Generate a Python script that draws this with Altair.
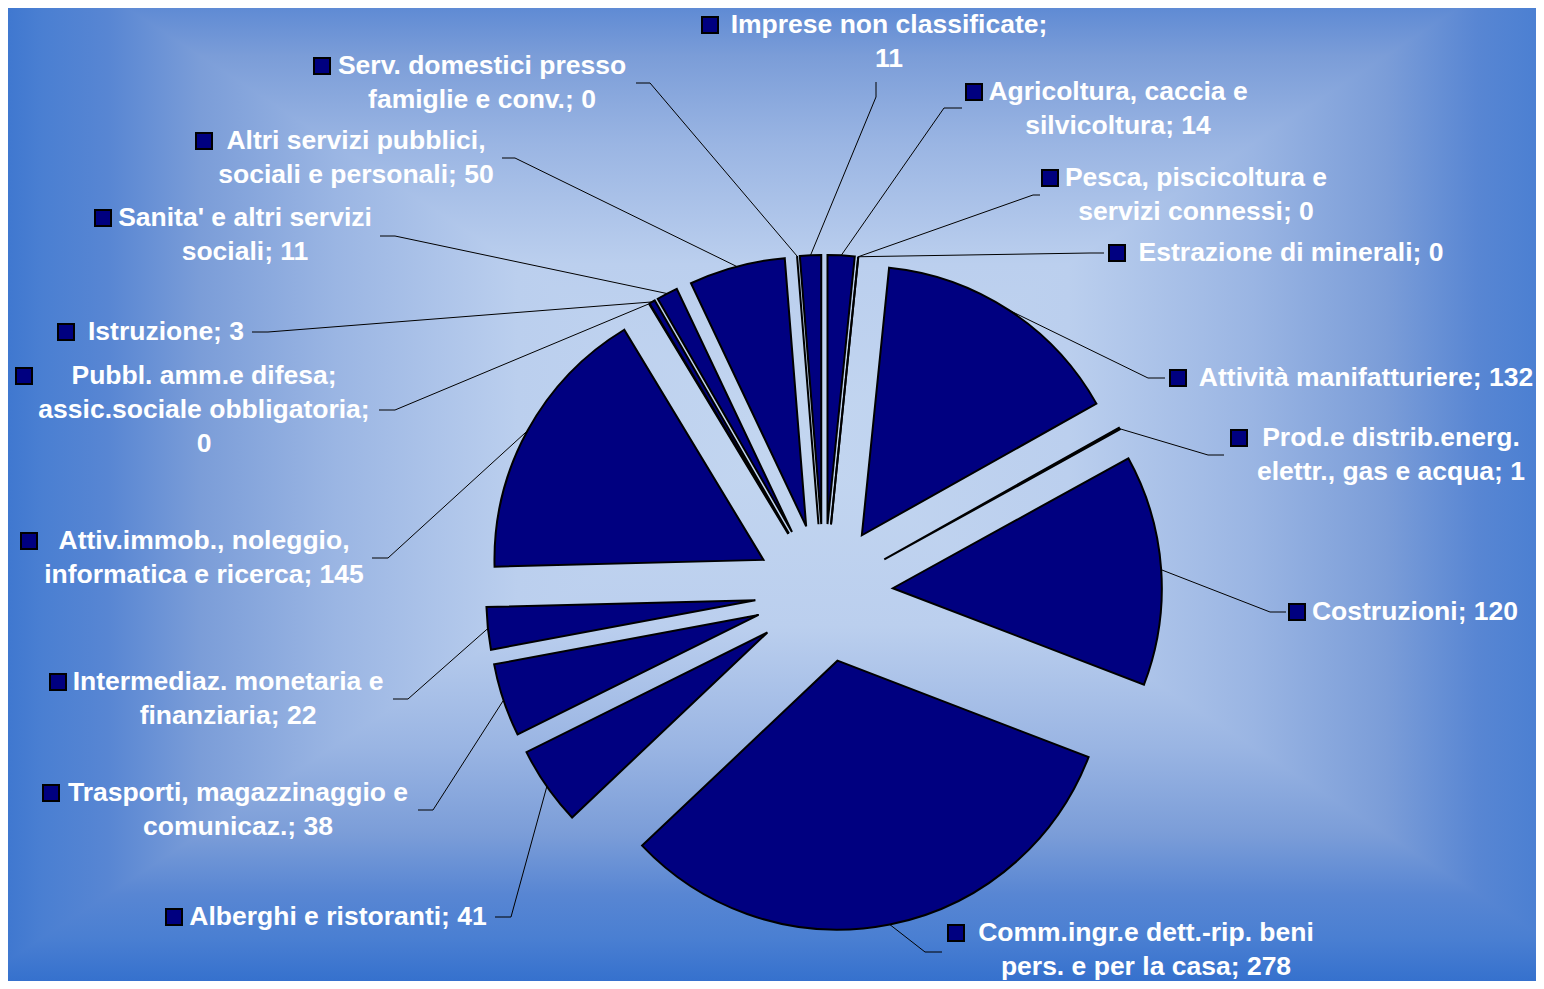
import altair as alt
import pandas as pd

# ---------------- data ----------------
CATEGORIES = [
    "Agricoltura, caccia e silvicoltura",
    "Pesca, piscicoltura e servizi connessi",
    "Estrazione di minerali",
    "Attività manifatturiere",
    "Prod.e distrib.energ. elettr., gas e acqua",
    "Costruzioni",
    "Comm.ingr.e dett.-rip. beni pers. e per la casa",
    "Alberghi e ristoranti",
    "Trasporti, magazzinaggio e comunicaz.",
    "Intermediaz. monetaria e finanziaria",
    "Attiv.immob., noleggio, informatica e ricerca",
    "Pubbl. amm.e difesa; assic.sociale obbligatoria",
    "Istruzione",
    "Sanita' e altri servizi sociali",
    "Altri servizi pubblici, sociali e personali",
    "Serv. domestici presso famiglie e conv.",
    "Imprese non classificate",
]
VALUES = [14, 0, 0, 132, 1, 120, 278, 41, 38, 22, 145, 0, 3, 11, 50, 0, 11]
LABEL_LINES = [
    ["Agricoltura, caccia e", "silvicoltura; {v}"],
    ["Pesca, piscicoltura e", "servizi connessi; {v}"],
    ["Estrazione di minerali; {v}"],
    ["Attività manifatturiere; {v}"],
    ["Prod.e distrib.energ.", "elettr., gas e acqua; {v}"],
    ["Costruzioni; {v}"],
    ["Comm.ingr.e dett.-rip. beni", "pers. e per la casa; {v}"],
    ["Alberghi e ristoranti; {v}"],
    ["Trasporti, magazzinaggio e", "comunicaz.; {v}"],
    ["Intermediaz. monetaria e", "finanziaria; {v}"],
    ["Attiv.immob., noleggio,", "informatica e ricerca; {v}"],
    ["Pubbl. amm.e difesa;", "assic.sociale obbligatoria;", "{v}"],
    ["Istruzione; {v}"],
    ["Sanita' e altri servizi", "sociali; {v}"],
    ["Altri servizi pubblici,", "sociali e personali; {v}"],
    ["Serv. domestici presso", "famiglie e conv.; {v}"],
    ["Imprese non classificate;", "{v}"],
]

# ---------------- layout (page pixels) ----------------
OFF = 8
W, H = 1528, 973
PIE_CX, PIE_CY = 824 - OFF, 593 - OFF
PIE_R = 269
EXPLODE = 69
FONT_SIZE = 26.5
LINE_H = 34

LABEL_CX = [1118, 1196, 1291, 1366, 1391, 1415, 1146, 338, 238, 228, 204, 204, 166, 245, 356, 482, 889]
LABEL_Y0 = [92, 178, 253, 378, 438, 612, 933, 917, 793, 682, 541, 376, 332, 218, 141, 66, 25]
MARKER_X = [974, 1050, 1117, 1178, 1239, 1297, 956, 174, 51, 58, 29, 24, 66, 103, 204, 322, 710]
ELBOW = [(944, 108), (1033, 195), (1090, 253), (1148, 378), (1208, 455), (1270, 612),
         (925, 952), (511, 917), (433, 810), (408, 699), (388, 558), (395, 410),
         (268, 332), (395, 236), (515, 158), (650, 83), (876, 97)]
LEAD_END = [(962, 108), (1040, 195), (1104, 253), (1165, 378), (1224, 455), (1286, 612),
            (942, 952), (495, 917), (418, 810), (393, 699), (372, 558), (379, 410),
            (252, 332), (380, 236), (502, 158), (636, 83), (876, 82)]

SLICE_FILL = "#000080"

# background gradient (rectangular, from centre)
BG_CX, BG_CY = 793 - OFF, 445 - OFF
BG_AX, BG_AY = 835, 548
GRAD_T = [0.0, 0.33, 0.55, 0.71, 0.82, 0.9, 1.0]
GRAD_C = ["#c3d6f0", "#bbcfee", "#9ab5e3", "#7b9dd8", "#5886d3", "#4a7fd2", "#306dcc"]


def grad(edge_first, vertical):
    stops = []
    for t, c in zip(GRAD_T, GRAD_C):
        off = 1 - t if edge_first else t
        stops.append((off, c))
    stops.sort()
    kw = dict(x1=0, y1=0, x2=0, y2=1) if vertical else dict(x1=0, y1=0, x2=1, y2=0)
    return alt.LinearGradient(
        gradient="linear",
        stops=[alt.GradientStop(offset=o, color=c) for o, c in stops],
        **kw,
    )


L, T = BG_CX - BG_AX, BG_CY - BG_AY
R, B = BG_CX + BG_AX, BG_CY + BG_AY

bg_top = pd.DataFrame({"x": [L, BG_CX, R], "y": [T, T, T], "y2": [T, BG_CY, T]})
bg_bot = pd.DataFrame({"x": [L, BG_CX, R], "y": [B, BG_CY, B], "y2": [B, B, B]})
bg_left = pd.DataFrame({"y": [T, B], "x": [L, L], "x2": [BG_CX, BG_CX]})
bg_right = pd.DataFrame({"y": [T, B], "x": [BG_CX, BG_CX], "x2": [R, R]})


def vert_area(df, g):
    return alt.Chart(df).mark_area(clip=True, color=g, orient="vertical", strokeWidth=0).encode(
        x=alt.X("x:Q", scale=None),
        y=alt.Y("y:Q", scale=None, stack=None),
        y2="y2:Q",
    )


def horiz_area(df, g):
    return alt.Chart(df).mark_area(clip=True, color=g, orient="horizontal", strokeWidth=0).encode(
        y=alt.Y("y:Q", scale=None),
        x=alt.X("x:Q", scale=None, stack=None),
        x2="x2:Q",
    )


background = [
    horiz_area(bg_left, grad(True, False)),
    horiz_area(bg_right, grad(False, False)),
    vert_area(bg_top, grad(True, True)),
    vert_area(bg_bot, grad(False, True)),
]

# ---------------- slices ----------------
n = len(VALUES)
df = pd.DataFrame({
    "idx": list(range(n)),
    "cat": CATEGORIES,
    "value": VALUES,
    "ex": [p[0] - OFF for p in ELBOW],
    "ey": [p[1] - OFF for p in ELBOW],
    "lx": [p[0] - OFF for p in LEAD_END],
    "ly": [p[1] - OFF for p in LEAD_END],
    "mx": [x - OFF for x in MARKER_X],
    "my": [y - OFF for y in LABEL_Y0],
})

base = (
    alt.Chart(df)
    .transform_joinaggregate(total="sum(value)")
    .transform_window(cum="sum(value)", sort=[alt.SortField("idx", order="ascending")], frame=[None, 0])
    .transform_calculate(
        a0="2*PI*(datum.cum - datum.value)/datum.total",
        a1="2*PI*datum.cum/datum.total",
    )
    .transform_calculate(mid="(datum.a0 + datum.a1)/2")
    .transform_calculate(
        px=f"{PIE_CX} + {EXPLODE}*sin(datum.mid)",
        py=f"{PIE_CY} - {EXPLODE}*cos(datum.mid)",
        sx=f"{PIE_CX} + {EXPLODE + PIE_R}*sin(datum.mid)",
        sy=f"{PIE_CY} - {EXPLODE + PIE_R}*cos(datum.mid)",
    )
)

arcs = base.mark_arc(radius=PIE_R, fill=SLICE_FILL, stroke="black", strokeWidth=2, strokeJoin="miter").encode(
    x=alt.X("px:Q", scale=None),
    y=alt.Y("py:Q", scale=None),
    theta=alt.Theta("a0:Q", scale=None, stack=None),
    theta2="a1:Q",
)

lead1 = base.mark_rule(color="black", strokeWidth=1).encode(
    x=alt.X("sx:Q", scale=None), y=alt.Y("sy:Q", scale=None), x2="ex:Q", y2="ey:Q"
)
lead2 = base.mark_rule(color="black", strokeWidth=1).encode(
    x=alt.X("ex:Q", scale=None), y=alt.Y("ey:Q", scale=None), x2="lx:Q", y2="ly:Q"
)

markers = alt.Chart(df).mark_square(
    size=256, fill=SLICE_FILL, stroke="black", strokeWidth=2, opacity=1
).encode(x=alt.X("mx:Q", scale=None), y=alt.Y("my:Q", scale=None))

# ---------------- labels ----------------
rows = []
for i, lines in enumerate(LABEL_LINES):
    for j, ln in enumerate(lines):
        rows.append({
            "text": ln.format(v=VALUES[i]),
            "x": LABEL_CX[i] - OFF,
            "y": LABEL_Y0[i] - OFF + j * LINE_H,
        })
df_lines = pd.DataFrame(rows)

labels = alt.Chart(df_lines).mark_text(
    font="Liberation Sans", fontWeight="bold", fontSize=FONT_SIZE, color="white",
    align="center", baseline="middle",
).encode(x=alt.X("x:Q", scale=None), y=alt.Y("y:Q", scale=None), text="text:N")

chart = alt.layer(*background, lead1, lead2, arcs, markers, labels).properties(
    width=W, height=H, padding=0, autosize=alt.AutoSizeParams(type="none"),
    background="#3c76cf",
).configure_view(stroke=None)

chart.save("out.html", embed_options={"renderer": "svg", "actions": False})
